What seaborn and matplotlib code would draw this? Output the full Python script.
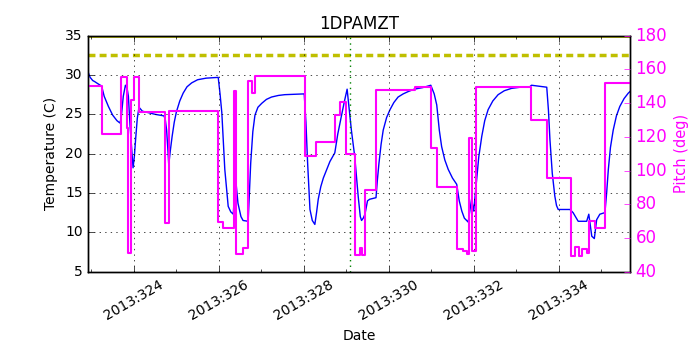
import pandas as pd
import matplotlib
matplotlib.use("Agg")
import matplotlib.pyplot as plt
import seaborn as sns
from matplotlib.ticker import MultipleLocator

# ==============================================================
# DATA (day of year 2013)
# ==============================================================
temp_days = [322.92, 322.97, 323.03, 323.08, 323.15, 323.24, 323.30, 323.40, 323.50,
             323.60, 323.67, 323.70, 323.75, 323.80, 323.84, 323.87, 323.91, 323.95,
             323.98, 324.01, 324.04, 324.08, 324.12, 324.20, 324.35, 324.50, 324.71,
             324.74, 324.77, 324.80, 324.82, 324.86, 324.90, 324.95, 325.00, 325.08,
             325.16, 325.25, 325.36, 325.50, 325.70, 325.985, 326.03, 326.07, 326.14,
             326.22, 326.28, 326.34, 326.39, 326.45, 326.52, 326.57, 326.69, 326.72,
             326.75, 326.80, 326.85, 326.92, 327.01, 327.12, 327.24, 327.40, 327.55,
             328.01, 328.05, 328.09, 328.12, 328.145, 328.20, 328.26, 328.30, 328.34,
             328.40, 328.46, 328.54, 328.615, 328.73, 328.80, 328.89, 328.95, 329.02,
             329.12, 329.20, 329.28, 329.33, 329.36, 329.40, 329.44, 329.50, 329.55,
             329.70, 329.73, 329.77, 329.82, 329.87, 329.95, 330.03, 330.12, 330.22,
             330.34, 330.46, 330.60, 330.80, 330.99, 331.07, 331.13, 331.19, 331.245,
             331.32, 331.40, 331.50, 331.60, 331.66, 331.72, 331.78, 331.87, 331.95,
             332.00, 332.07, 332.12, 332.19, 332.26, 332.34, 332.45, 332.575, 332.72,
             332.89, 333.10, 333.32, 333.36, 333.72, 333.76, 333.795, 333.85, 333.91,
             333.95, 333.99, 334.265, 334.34, 334.46, 334.66, 334.71, 334.78, 334.84,
             334.895, 334.97, 335.09, 335.13, 335.17, 335.22, 335.285, 335.36, 335.44,
             335.54, 335.64, 335.68]
temp_vals = [30.4, 29.7, 29.3, 29.15, 28.9, 28.6, 27.3, 26.0, 24.9,
             24.2, 23.9, 24.5, 27.3, 28.7, 28.3, 27.3, 23.5, 20.5,
             18.2, 19.6, 21.8, 24.5, 25.9, 25.4, 25.2, 25.0, 24.8,
             24.3, 23.0, 20.5, 18.6, 20.5, 22.2, 24.0, 25.3, 26.7,
             27.7, 28.5, 29.0, 29.4, 29.6, 29.7, 27.5, 25.2, 18.0,
             13.3, 12.6, 12.3, 17.1, 13.7, 12.0, 11.5, 11.4, 15.0,
             18.8, 22.8, 24.9, 25.9, 26.4, 26.9, 27.2, 27.4, 27.5,
             27.6, 24.0, 18.8, 15.5, 12.9, 11.5, 11.0, 12.5, 14.2,
             15.8, 16.9, 18.0, 19.0, 20.1, 22.5, 24.9, 26.5, 28.2,
             23.0, 19.6, 14.6, 12.0, 11.5, 11.8, 12.3, 14.0, 14.2,
             14.4, 16.5, 18.8, 21.2, 23.0, 24.6, 25.6, 26.5, 27.2,
             27.6, 27.9, 28.2, 28.4, 28.7, 27.6, 26.2, 23.0, 20.9,
             19.2, 18.0, 16.9, 16.1, 14.0, 12.7, 11.8, 11.3, 14.2,
             12.7, 16.7, 19.6, 22.2, 24.2, 25.6, 26.7, 27.5, 28.0,
             28.3, 28.45, 28.5, 28.7, 28.45, 25.5, 21.8, 17.5, 14.6,
             13.4, 12.9, 12.9, 12.5, 11.4, 11.4, 12.3, 9.5, 9.2,
             11.6, 12.3, 12.5, 15.0, 18.0, 20.8, 23.0, 24.8, 26.0,
             27.0, 27.7, 27.9]

pitch_days = [322.92, 323.25, 323.69, 323.83, 323.866, 323.93, 324.00, 324.12, 324.73,
              324.83, 325.98, 326.09, 326.36, 326.40, 326.58, 326.69, 326.79, 326.85,
              328.03, 328.29, 328.73, 328.85, 328.99, 329.20, 329.32, 329.375, 329.44,
              329.71, 330.62, 330.99, 331.14, 331.61, 331.75, 331.85, 331.895, 331.95,
              332.05, 333.36, 333.72, 334.29, 334.38, 334.48, 334.56, 334.66, 334.71,
              334.85, 335.09, 335.68]
pitch_vals = [150.0, 121.5, 155.3, 125.4, 51.0, 142.0, 155.5, 134.5, 69.0,
              135.5, 69.7, 65.8, 147.2, 50.3, 54.0, 153.0, 146.2, 156.3,
              108.6, 116.8, 133.0, 140.9, 109.8, 50.0, 54.0, 50.0, 88.5,
              147.8, 149.8, 113.6, 90.4, 53.5, 52.5, 50.5, 119.1, 52.0,
              149.4, 130.0, 95.4, 49.4, 54.6, 49.4, 53.5, 51.0, 70.3,
              65.8, 152.1, 152.1]

tick_days = [324, 326, 328, 330, 332, 334]
tick_labels = ["2013:%d" % d for d in tick_days]
planning_limit = 32.5
upper_limit = 35.0
now_day = 329.08

temps = pd.DataFrame({"day": temp_days, "temp": temp_vals})
pitch = pd.DataFrame({"day": pitch_days, "pitch": pitch_vals})

# ==============================================================
# PLOT
# ==============================================================
plt.style.use("classic")
plt.rcParams["figure.facecolor"] = "white"
plt.rcParams["savefig.facecolor"] = "white"
plt.rcParams["font.family"] = ["DejaVu Sans"]

fig = plt.figure(figsize=(7, 3.5), dpi=100)
ax1 = fig.add_axes([0.126, 0.224, 0.774, 0.674])

sns.lineplot(x="day", y="temp", data=temps, ax=ax1, color="b", linewidth=1.0,
             estimator=None, sort=False)
ax1.axhline(planning_limit, color="y", linestyle="--", linewidth=2.5, dashes=(5, 3))
ax1.axhline(upper_limit, color="y", linestyle="-", linewidth=2.0)
ax1.axvline(now_day, color="g", linestyle=":", linewidth=1.0)

ax1.set_xlim(322.924, 335.68)
ax1.set_ylim(5, 35)
ax1.set_xticks(tick_days)
ax1.set_xticklabels(tick_labels, rotation=30, ha="center", fontsize=10)
ax1.xaxis.set_minor_locator(MultipleLocator(1))
ax1.tick_params(axis="y", labelsize=10)
ax1.grid(True, which="major", linestyle=":", color="k")
ax1.set_xlabel("Date", fontsize=10)
ax1.set_ylabel("Temperature (C)", fontsize=10)
ax1.set_title("1DPAMZT", fontsize=12)

ax2 = ax1.twinx()
sns.lineplot(x="day", y="pitch", data=pitch, ax=ax2, color="magenta", linewidth=1.5,
             estimator=None, sort=False, drawstyle="steps-post")
ax2.set_ylim(40, 180)
ax2.set_xlim(322.924, 335.68)
ax2.set_yticks(range(40, 181, 20))
ax2.tick_params(axis="y", colors="magenta", labelsize=12)
ax2.set_ylabel("Pitch (deg)", color="magenta", fontsize=10.5)
ax2.set_xlabel("")

fig.savefig("out.png", dpi=100)
